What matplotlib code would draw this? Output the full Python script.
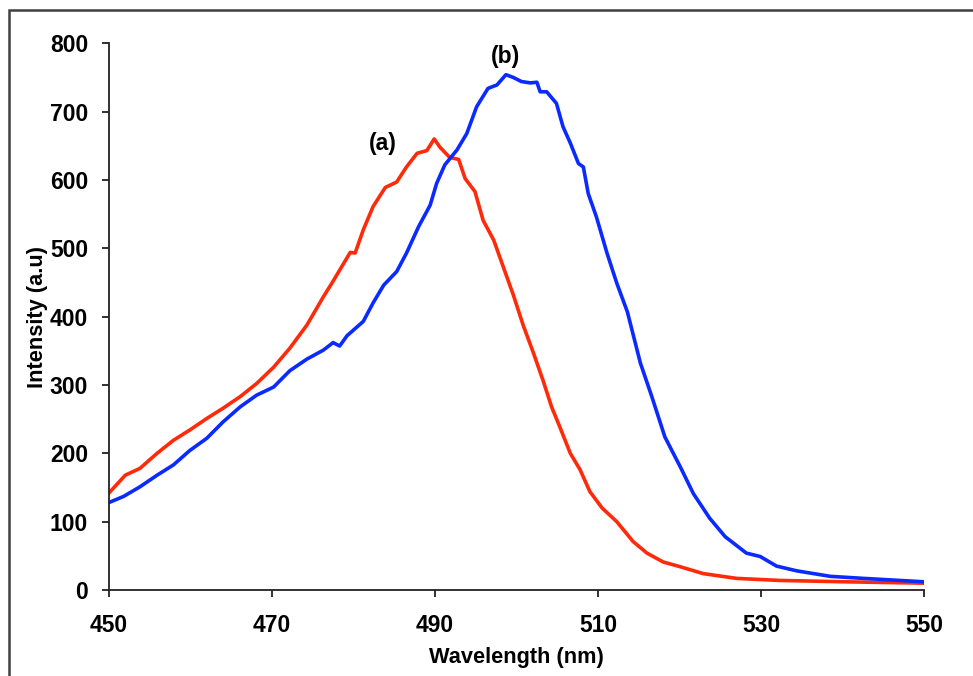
import matplotlib
matplotlib.use("Agg")
import matplotlib.pyplot as plt
from matplotlib.patches import Rectangle

plt.rcParams['font.family'] = ['Liberation Sans', 'DejaVu Sans']

# Series (a) - red
wl_a = [450, 452, 453.8, 455.9, 457.9, 459.9, 462, 464, 466.1, 468.1, 470.2, 472.2,
        474.3, 476.3, 477.5, 479.6, 480.2, 481.2, 482.4, 483.9, 485.3, 486.5, 487.8,
        489, 489.9, 490.6, 491.8, 492.9, 493.7, 494.9, 495.9, 497.2, 498.4, 499.6,
        500.8, 502.1, 503.3, 504.3, 505.3, 506.6, 507.8, 509, 510.5, 512.3, 514.3,
        516, 518, 520.1, 522.9, 527, 532.3, 540.5, 550]
int_a = [142, 168, 178, 200, 219, 234, 251, 266, 283, 302, 326, 354,
         388, 429, 452, 494, 493, 527, 561, 589, 597, 619, 639,
         643, 660, 648, 633, 630, 602, 583, 541, 512, 472, 432,
         388, 346, 305, 268, 239, 200, 176, 144, 120, 100, 71,
         54, 41, 34, 24, 17, 14, 12, 10]

# Series (b) - blue
wl_b = [450, 451.8, 453.8, 455.9, 457.9, 459.9, 462, 464, 466.1, 468.1, 470.2, 472.2,
        474.3, 476.3, 477.5, 478.3, 479.2, 481.2, 482.4, 483.7, 485.3, 486.5, 488,
        489.4, 490.2, 491.2, 492.7, 493.9, 495.1, 496.5, 497.6, 498.7, 499.6, 500.6,
        501.7, 502.5, 502.9, 503.7, 504.9, 505.7, 506.6, 507.6, 508.2, 508.8, 509.8,
        511.1, 512.3, 513.6, 515.2, 516.6, 518.2, 520.1, 521.7, 523.7, 525.6, 528.2,
        529.9, 531.9, 534.4, 538.5, 542.6, 550]
int_b = [128, 137, 151, 168, 183, 204, 222, 246, 268, 285, 297, 321,
         338, 351, 362, 357, 372, 393, 420, 446, 466, 493, 532,
         563, 595, 622, 644, 668, 707, 734, 739, 754, 750, 744,
         742, 743, 729, 729, 712, 678, 654, 624, 619, 580, 546,
         493, 449, 407, 332, 283, 224, 180, 141, 105, 78, 54,
         49, 35, 28, 20, 17, 12]

x_ticks = [450, 470, 490, 510, 530, 550]
y_ticks = [0, 100, 200, 300, 400, 500, 600, 700, 800]

fig = plt.figure(figsize=(9.73, 6.76), dpi=100)
ax = fig.add_axes([0.112, 0.1272, 0.8377, 0.8088])

ax.plot(wl_a, int_a, color='#FF2A0A', lw=2.6, solid_joinstyle='round')
ax.plot(wl_b, int_b, color='#0A2AFF', lw=2.6, solid_joinstyle='round')

ax.text(483.6, 654, '(a)', fontsize=16.5, fontweight='bold', ha='center', va='center')
ax.text(498.6, 781, '(b)', fontsize=16.5, fontweight='bold', ha='center', va='center')

ax.set_xlim(450, 550)
ax.set_ylim(0, 800)
ax.set_xticks(x_ticks)
ax.set_yticks(y_ticks)
for lab in ax.get_xticklabels() + ax.get_yticklabels():
    lab.set_fontweight('bold')
ax.tick_params(axis='both', labelsize=16.5, direction='out', length=5, width=1.3, color='#222222')
ax.tick_params(axis='x', pad=12)
ax.tick_params(axis='y', pad=10)
for s in ['top', 'right']:
    ax.spines[s].set_visible(False)
for s in ['left', 'bottom']:
    ax.spines[s].set_linewidth(1.3)
    ax.spines[s].set_color('#222222')

ax.set_xlabel('Wavelength (nm)', fontsize=15.7, fontweight='bold')
ax.set_ylabel('Intensity (a.u)', fontsize=15.7, fontweight='bold')
ax.xaxis.set_label_coords(0.5, -0.104)
ax.yaxis.set_label_coords(-0.075, 0.5)

fig.patches.append(Rectangle((9 / 973, -0.05), 1.1, 1 - 10.5 / 676 + 0.05,
                             transform=fig.transFigure, fill=False,
                             edgecolor='#404040', lw=1.8, clip_on=False))

fig.savefig('out.png', dpi=100)
